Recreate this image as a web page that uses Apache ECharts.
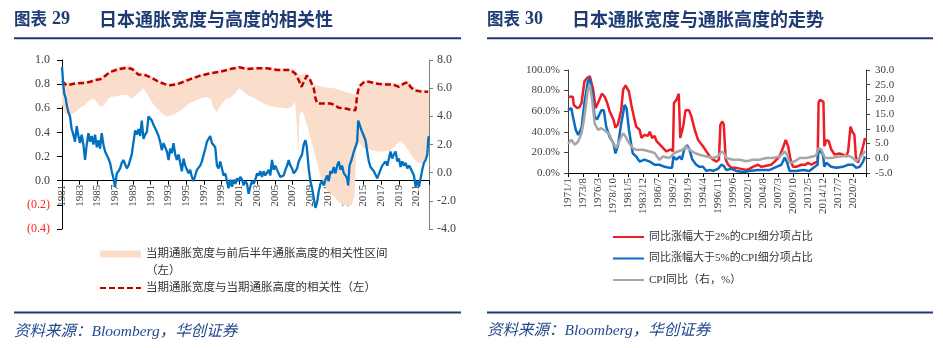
<!DOCTYPE html>
<html>
<head>
<meta charset="utf-8">
<script src="https://cdn.jsdelivr.net/npm/echarts@6/dist/echarts.min.js"></script>
<style>
html,body{margin:0;padding:0;background:#fff;}
#main{width:943px;height:348px;}
</style>
</head>
<body>
<div id="main"></div>
<script>
// ---------------- Chart 29 (left) ----------------
// correlation band (left axis), decimal years
const bandYears = [
1981.0,1981.3,1981.9,1982.5,1983.0,1983.6,1984.2,1984.6,1984.9,1985.3,
1985.7,1986.2,1986.6,1987.2,1987.7,1988.3,1988.9,1989.3,1989.8,1990.2,
1990.6,1991.1,1991.7,1992.3,1992.8,1993.4,1994.1,1994.7,1995.3,1995.8,
1996.5,1997.3,1997.8,1998.1,1998.5,1998.9,1999.5,2000.0,2000.5,2001.0,
2001.5,2001.9,2002.4,2002.8,2003.4,2004.1,2004.9,2005.6,2006.4,2006.9,
2007.3,2007.5,2007.65,2007.8,2008.1,2008.4,2008.7,2009.4,2010.2,2010.9,
2011.7,2012.4,2013.2,2013.7,2014.0,2014.2,2014.5,2015.0,2016.0,2017.0,
2018.0,2018.6,2019.2,2019.6,2020.0,2020.5,2021.0,2021.5,2022.0,2022.4];
const bandLow = [
0.63,0.56,0.54,0.57,0.60,0.63,0.67,0.68,0.655,0.61,
0.625,0.68,0.695,0.70,0.71,0.71,0.68,0.71,0.74,0.765,
0.72,0.655,0.60,0.557,0.53,0.543,0.57,0.60,0.64,0.654,
0.68,0.695,0.68,0.60,0.57,0.626,0.68,0.687,0.72,0.765,
0.74,0.71,0.695,0.68,0.654,0.626,0.612,0.604,0.598,0.612,
0.654,0.45,0.22,0.55,0.58,0.52,0.45,0.25,0.03,-0.08,
-0.13,-0.19,-0.21,-0.20,-0.12,0.25,0.32,0.27,0.25,0.24,
0.25,0.29,0.33,0.30,0.26,0.20,0.16,0.14,0.18,0.35];
const bandHigh = [
0.84,0.82,0.81,0.82,0.82,0.825,0.835,0.845,0.85,0.855,
0.875,0.90,0.915,0.935,0.95,0.955,0.95,0.92,0.895,0.89,
0.88,0.865,0.835,0.815,0.805,0.805,0.815,0.835,0.85,0.865,
0.88,0.895,0.90,0.905,0.91,0.915,0.925,0.935,0.945,0.95,
0.945,0.94,0.94,0.94,0.94,0.94,0.935,0.93,0.93,0.93,
0.92,0.90,0.89,0.88,0.88,0.89,0.89,0.80,0.78,0.77,
0.765,0.75,0.73,0.72,0.715,0.72,0.80,0.835,0.825,0.815,
0.815,0.81,0.80,0.82,0.83,0.79,0.76,0.755,0.75,0.75];

// same-period correlation (left axis)
const corrYears = [
1981.0,1981.5,1982.5,1983.6,1984.2,1984.7,1985.3,1985.9,1986.4,1987.4,
1988.3,1988.9,1989.6,1990.4,1991.1,1991.9,1992.6,1993.2,1994.0,1994.9,
1995.5,1996.6,1997.7,1998.9,2000.0,2001.0,2001.9,2003.0,2004.1,2005.3,
2006.0,2006.8,2007.3,2007.7,2008.0,2008.3,2008.6,2008.9,2009.2,2009.4,
2009.6,2009.8,2010.3,2011.3,2011.8,2012.2,2013.0,2013.7,2014.1,2014.3,
2014.5,2015.1,2015.6,2016.4,2017.1,2018.3,2019.0,2019.6,2020.0,2020.3,
2020.7,2021.3,2021.8,2022.3];
const corrVals = [
0.825,0.79,0.806,0.81,0.82,0.834,0.84,0.87,0.90,0.925,
0.936,0.925,0.88,0.875,0.853,0.82,0.80,0.79,0.80,0.825,
0.842,0.87,0.889,0.903,0.925,0.94,0.925,0.931,0.931,0.917,
0.917,0.917,0.889,0.834,0.778,0.82,0.87,0.85,0.80,0.765,
0.68,0.64,0.64,0.64,0.626,0.604,0.598,0.584,0.584,0.709,
0.778,0.82,0.82,0.806,0.798,0.798,0.778,0.806,0.814,0.778,
0.75,0.742,0.737,0.737];

// Japan CPI yoy (right axis)
const cpiYears = [
1981.00,1981.15,1981.26,1981.41,1981.53,1981.72,1981.90,1982.09,1982.28,1982.47,
1982.66,1982.85,1983.03,1983.22,1983.41,1983.60,1983.79,1983.98,1984.16,1984.35,
1984.54,1984.73,1984.92,1985.11,1985.29,1985.48,1985.67,1985.86,1986.05,1986.24,
1986.42,1986.61,1986.80,1986.99,1987.18,1987.37,1987.55,1987.74,1987.93,1988.12,
1988.31,1988.50,1988.87,1989.06,1989.25,1989.44,1989.63,1989.81,1990.00,1990.19,
1990.38,1990.57,1990.76,1990.94,1991.13,1991.32,1991.51,1991.70,1991.89,1992.07,
1992.26,1992.45,1992.64,1992.83,1993.02,1993.20,1993.39,1993.58,1993.77,1993.96,
1994.15,1994.33,1994.52,1994.71,1994.90,1995.09,1995.27,1995.46,1995.65,1995.84,
1996.03,1996.22,1996.40,1996.59,1996.78,1996.97,1997.16,1997.35,1997.54,1997.72,
1997.91,1998.10,1998.29,1998.48,1998.66,1998.85,1999.04,1999.23,1999.42,1999.61,
1999.79,1999.98,2000.17,2000.36,2000.55,2000.74,2000.92,2001.11,2001.30,2001.49,
2001.68,2001.87,2002.05,2002.24,2002.43,2002.62,2002.81,2003.00,2003.18,2003.37,
2003.56,2003.75,2003.94,2004.13,2004.31,2004.50,2004.69,2004.88,2005.07,2005.26,
2005.44,2005.63,2005.82,2006.01,2006.20,2006.39,2006.57,2006.76,2006.95,2007.14,
2007.33,2007.52,2007.70,2007.89,2008.08,2008.27,2008.46,2008.60,2008.83,2009.02,
2009.21,2009.40,2009.59,2009.78,2009.97,2010.15,2010.34,2010.53,2010.72,2010.91,
2011.09,2011.28,2011.47,2011.66,2011.85,2012.04,2012.22,2012.41,2012.60,2012.79,
2012.98,2013.17,2013.28,2013.43,2013.66,2013.92,2014.11,2014.30,2014.41,2014.56,
2014.79,2015.05,2015.24,2015.43,2015.61,2015.80,2015.99,2016.18,2016.37,2016.56,
2016.75,2016.93,2017.12,2017.31,2017.50,2017.69,2017.88,2018.06,2018.25,2018.44,
2018.63,2018.82,2019.01,2019.19,2019.38,2019.57,2019.76,2019.95,2020.14,2020.33,
2020.51,2020.70,2020.89,2021.08,2021.27,2021.46,2021.64,2021.83,2022.02,2022.21,
2022.32,2022.40];
const cpiVals = [
7.5,6.2,5.6,5.3,4.8,4.3,4.0,3.1,2.7,2.2,
3.3,2.6,2.1,2.7,2.0,0.9,2.0,2.8,2.2,2.6,
2.0,2.7,1.8,2.3,1.7,2.8,2.0,1.5,1.4,1.0,
0.7,0.1,-0.4,-1.0,-0.05,0.1,0.3,0.7,0.9,0.8,
0.3,0.5,1.3,1.3,3.0,2.7,3.1,2.6,3.7,2.4,
2.7,2.9,4.0,4.0,3.7,3.4,3.3,2.9,2.6,2.2,
1.6,2.1,2.0,1.5,0.9,1.7,1.4,2.1,1.3,0.9,
1.3,0.7,0.1,1.0,0.5,0.5,-0.05,0.2,-0.3,-0.6,
-0.2,0.2,0.3,0.5,0.8,0.7,1.7,2.2,2.4,2.6,
2.1,2.2,1.8,0.5,0.3,0.8,0.3,-0.2,-0.05,-0.6,
-1.1,-0.5,-1.0,-0.5,-0.8,-0.4,-0.6,-0.3,-0.5,-0.9,
-0.6,-0.8,-1.5,-1.0,-0.6,-0.8,-0.5,-0.05,-0.2,0.1,
-0.3,0.1,-0.2,0.0,0.2,-0.2,0.9,0.2,0.5,0.2,
-0.05,-0.3,-0.4,-0.2,0.2,0.5,0.9,0.5,0.3,-0.05,
0.1,0.3,0.8,0.7,1.3,2.0,2.3,1.9,0.3,-0.6,
-1.1,-1.8,-2.5,-2.1,-1.3,-0.8,-0.6,-0.9,-0.5,-0.2,
-0.6,0.1,-0.05,0.4,-0.05,0.5,0.8,0.2,0.5,-0.05,
-0.2,-0.4,-0.9,0.5,0.9,1.5,1.6,2.2,3.7,3.6,
3.0,2.6,2.3,1.5,0.8,0.4,0.3,0.1,0.2,-0.4,
-0.5,0.2,0.5,0.4,0.8,0.5,1.0,1.5,1.0,1.3,
1.5,0.8,1.0,0.4,0.8,0.5,0.7,0.3,0.5,0.3,
0.2,-0.2,-1.0,-0.6,-1.0,-0.4,0.2,0.7,0.9,1.3,
2.4,2.6];

// ---------------- Chart 30 (right) ----------------
// [months since 1971/1, value]
const share2pct = [
[0,74],[10,74],[12,66],[19,63],[24,64],[28,68],[34,89],[39,92],[45,94],[52,81],
[57,63],[62,68],[70,77],[76,74],[81,68],[86,60],[94,52],[98,44],[103,47],[110,61],
[114,81],[119,85],[126,79],[131,66],[136,55],[141,45],[148,42],[152,34],[158,37],[165,36],
[169,40],[174,34],[179,36],[183,31],[193,26],[203,21],[213,23],[217,21],[219,68],[224,71],
[229,77],[232,34],[238,45],[243,61],[250,61],[255,55],[262,42],[269,32],[279,26],[286,21],
[293,16],[300,13],[307,11],[312,13],[315,47],[319,50],[322,47],[326,13],[331,8],[338,5],
[348,5],[358,4],[369,3],[375,4],[382,6],[393,8],[400,6],[410,7],[420,8],[427,11],
[437,16],[444,24],[450,32],[455,26],[460,13],[465,6],[472,6],[482,8],[491,8],[496,10],
[503,8],[510,10],[516,11],[518,69],[521,71],[528,69],[530,26],[534,32],[539,31],[544,23],
[551,18],[561,19],[568,18],[575,16],[579,21],[584,45],[588,40],[592,37],[595,16],[599,10],
[604,16],[610,26],[614,34]];
const share5pct = [
[0,61],[7,63],[10,55],[16,42],[21,37],[28,44],[34,68],[41,89],[45,92],[50,77],
[55,55],[60,52],[69,61],[74,61],[79,45],[86,35],[94,29],[98,19],[103,26],[110,48],
[117,66],[121,63],[126,42],[131,27],[134,19],[141,16],[148,11],[158,13],[169,11],[179,8],
[189,8],[200,6],[210,5],[215,5],[218,16],[224,13],[231,16],[235,13],[241,24],[246,27],
[251,23],[257,13],[265,8],[272,6],[279,6],[286,2],[293,3],[300,2],[310,4],[317,8],
[322,7],[327,3],[338,4],[348,2],[362,1],[375,2],[393,3],[403,3],[417,3],[431,6],
[441,8],[448,15],[453,10],[458,2],[472,2],[486,3],[499,2],[510,6],[516,8],[518,24],
[522,21],[527,18],[530,6],[534,10],[544,6],[555,5],[568,6],[579,8],[589,8],[596,5],
[603,6],[610,11],[614,16]];
const cpiYoY = [
[0,5.0],[7,6.3],[14,4.6],[21,5.7],[28,8.5],[34,14.2],[41,23.2],[45,25.0],[50,19.8],[55,11.9],
[62,9.7],[69,10.2],[79,9.1],[86,8.0],[93,5.2],[100,3.5],[107,6.3],[114,8.5],[119,7.4],[126,5.2],
[134,3.5],[141,2.9],[155,2.9],[169,2.3],[179,1.8],[189,-0.5],[196,0.6],[210,0.1],[220,1.8],[227,2.3],
[237,2.9],[244,4.0],[251,2.9],[262,1.8],[272,1.2],[286,0.6],[300,0.1],[310,0.6],[317,2.3],[322,1.8],
[327,0.1],[341,-0.5],[355,-0.5],[369,-1.0],[382,-0.5],[396,-0.5],[410,0.1],[424,0.1],[437,0.6],[448,2.3],
[453,1.2],[458,-1.6],[469,-1.0],[479,0.1],[493,0.1],[506,0.6],[513,1.0],[518,3.5],[524,2.9],[531,0.1],
[544,0.1],[561,0.6],[579,0.9],[589,0.1],[596,-1.0],[606,0.6],[614,2.5]];

const BAND_NAME = '当期通胀宽度与前后半年通胀高度的相关性区间';
const CORR_NAME = '当期通胀宽度与当期通胀高度的相关性（左）';
const R2_NAME = '同比涨幅大于2%的CPI细分项占比';
const R5_NAME = '同比涨幅大于5%的CPI细分项占比';
const RCPI_NAME = 'CPI同比（右，%）';

const SERIF = '"Times New Roman","Liberation Serif","Noto Sans CJK SC",serif';
const NAVY = '#1F3B73';
const PEACH = '#FADDCB';

// left chart layout
const G0 = {left: 62, top: 60, width: 367, height: 169};
const Y0MIN = -0.4, Y0MAX = 1.0;
// put the x axis on the left axis' zero line
const X0_OFFSET = -G0.height * (0 - Y0MIN) / (Y0MAX - Y0MIN);

const chart = echarts.init(document.getElementById('main'), null, {renderer: 'canvas'});

function yearLabel(v) {
  const d = v - 1981;
  if (Math.abs(d / 2 - Math.round(d / 2)) > 1e-6) return '';
  return String(Math.round(v));
}
function monthLabel(m) {
  const r = Math.round(m);
  if (Math.abs(m - r) > 1e-6 || r % 31 !== 0) return '';
  return (1971 + Math.floor(r / 12)) + '/' + (r % 12 + 1);
}

const titleRich = (size) => ({
  a: {fontFamily: '"Noto Sans CJK SC"', fontWeight: 'bold', fontSize: size, color: NAVY, lineHeight: 20},
  b: {fontFamily: '"Liberation Serif"', fontWeight: 'bold', fontSize: 18, color: NAVY, lineHeight: 20}
});
const srcStyle = {fontFamily: SERIF, fontStyle: 'italic', fontWeight: 'normal', fontSize: 15.5, color: '#254A8F', lineHeight: 20};

const option = {
  animation: false,
  backgroundColor: '#fff',
  title: [
    {text: '{a|图表} {b|29}', left: 14, top: 9, padding: 0, textStyle: {rich: titleRich(16.5)}},
    {text: '{a|日本通胀宽度与高度的相关性}', left: 99, top: 9, padding: 0, textStyle: {rich: titleRich(18)}},
    {text: '{a|图表} {b|30}', left: 487, top: 9, padding: 0, textStyle: {rich: titleRich(16.5)}},
    {text: '{a|日本通胀宽度与通胀高度的走势}', left: 572, top: 9, padding: 0, textStyle: {rich: titleRich(18)}},
    {text: '资料来源：Bloomberg，华创证券', left: 14, top: 322, padding: 0, textStyle: srcStyle},
    {text: '资料来源：Bloomberg，华创证券', left: 487, top: 321, padding: 0, textStyle: srcStyle}
  ],
  graphic: [
    {type: 'rect', silent: true, shape: {x: 14, y: 37.3, width: 447, height: 2}, style: {fill: NAVY}},
    {type: 'rect', silent: true, shape: {x: 487, y: 37.3, width: 446, height: 2}, style: {fill: NAVY}},
    {type: 'rect', silent: true, shape: {x: 14, y: 311.6, width: 447, height: 2}, style: {fill: NAVY}},
    {type: 'rect', silent: true, shape: {x: 487, y: 311.6, width: 446, height: 2}, style: {fill: NAVY}}
  ],
  legend: [
    {
      orient: 'vertical', left: 99, top: 228.5, padding: 0, itemWidth: 41, itemHeight: 7, itemGap: 0,
      selectedMode: false,
      textStyle: {fontFamily: SERIF, fontSize: 11.5, lineHeight: 17, color: '#333'},
      formatter: (n) => n === BAND_NAME ? '\n' + n + '\n（左）' : n,
      data: [
        {name: BAND_NAME, icon: 'rect'},
        {name: CORR_NAME, itemStyle: {opacity: 0}}
      ]
    },
    {
      orient: 'vertical', left: 612, top: 230, padding: 0, itemWidth: 31, itemHeight: 14, itemGap: 7.5,
      selectedMode: false,
      textStyle: {fontFamily: SERIF, fontSize: 11, lineHeight: 14, color: '#333'},
      data: [
        {name: R2_NAME, itemStyle: {opacity: 0}},
        {name: R5_NAME, itemStyle: {opacity: 0}},
        {name: RCPI_NAME, itemStyle: {opacity: 0}}
      ]
    }
  ],
  grid: [
    G0,
    {left: 568, top: 70, width: 298, height: 103}
  ],
  xAxis: [
    {
      type: 'value', gridIndex: 0, min: 1981, max: 2022.4, interval: 2,
      position: 'bottom', offset: X0_OFFSET,
      splitLine: {show: false},
      axisLine: {show: true, onZero: false, lineStyle: {color: '#000', width: 1}},
      axisTick: {show: true, length: 4, lineStyle: {color: '#000'}},
      axisLabel: {rotate: 90, margin: 4, fontFamily: SERIF, fontSize: 11, color: '#404040', formatter: yearLabel}
    },
    {
      type: 'value', gridIndex: 1, min: 0, max: 616, interval: 31,
      splitLine: {show: false},
      axisLine: {show: true, onZero: false, lineStyle: {color: '#000', width: 1}},
      axisTick: {show: true, length: 4, lineStyle: {color: '#000'}},
      axisLabel: {rotate: 90, margin: 5, fontFamily: SERIF, fontSize: 11, color: '#404040', formatter: monthLabel}
    }
  ],
  yAxis: [
    {
      type: 'value', gridIndex: 0, position: 'left', min: Y0MIN, max: Y0MAX, interval: 0.2,
      splitLine: {show: false},
      axisLine: {show: true, lineStyle: {color: '#000'}},
      axisTick: {show: true, length: 5, lineStyle: {color: '#000'}},
      axisLabel: {
        margin: 12, fontFamily: SERIF, fontSize: 12,
        color: (v) => (Number(v) < -1e-9 ? '#FF2020' : '#404040'),
        formatter: (v) => v < -1e-9 ? '(' + Math.abs(v).toFixed(1) + ')' : Math.abs(v).toFixed(1)
      }
    },
    {
      type: 'value', gridIndex: 0, position: 'right', min: -4, max: 8, interval: 2,
      splitLine: {show: false},
      axisLine: {show: true, lineStyle: {color: '#808080'}},
      axisTick: {show: true, length: 4, lineStyle: {color: '#808080'}},
      axisLabel: {margin: 8, fontFamily: SERIF, fontSize: 12, color: '#404040', formatter: (v) => v.toFixed(1)}
    },
    {
      type: 'value', gridIndex: 1, position: 'left', min: 0, max: 100, interval: 20,
      splitLine: {show: false},
      axisLine: {show: true, lineStyle: {color: '#404040'}},
      axisTick: {show: true, length: 4, lineStyle: {color: '#404040'}},
      axisLabel: {margin: 8, fontFamily: SERIF, fontSize: 11, color: '#404040', formatter: (v) => v.toFixed(1) + '%'}
    },
    {
      type: 'value', gridIndex: 1, position: 'right', min: -5, max: 30, interval: 5,
      splitLine: {show: false},
      axisLine: {show: true, lineStyle: {color: '#404040'}},
      axisTick: {show: true, length: 4, lineStyle: {color: '#404040'}},
      axisLabel: {margin: 9, fontFamily: SERIF, fontSize: 11, color: '#404040', formatter: (v) => v.toFixed(1)}
    }
  ],
  series: [
    {
      name: BAND_NAME, type: 'custom', xAxisIndex: 0, yAxisIndex: 0, silent: true,
      itemStyle: {color: PEACH},
      data: bandYears.map((x, i) => [x, bandLow[i], bandHigh[i]]),
      encode: {x: 0, y: [1, 2]},
      renderItem: (params, api) => {
        if (params.dataIndex !== 0) return null;
        const pts = [];
        for (let i = 0; i < bandYears.length; i++) pts.push(api.coord([bandYears[i], bandHigh[i]]));
        for (let i = bandYears.length - 1; i >= 0; i--) pts.push(api.coord([bandYears[i], bandLow[i]]));
        return {type: 'polygon', shape: {points: pts}, style: {fill: PEACH}};
      }
    },
    {
      name: CORR_NAME, type: 'line', xAxisIndex: 0, yAxisIndex: 0, symbol: 'none', silent: true,
      itemStyle: {color: '#C00000'},
      lineStyle: {color: '#C00000', width: 2.5, type: [6, 3]},
      data: corrYears.map((x, i) => [x, corrVals[i]])
    },
    {
      name: 'CPI', type: 'line', xAxisIndex: 0, yAxisIndex: 1, symbol: 'none', silent: true,
      itemStyle: {color: '#0070C0'},
      lineStyle: {color: '#0070C0', width: 2.3},
      data: cpiYears.map((x, i) => [x, cpiVals[i]])
    },
    {
      name: R2_NAME, type: 'line', xAxisIndex: 1, yAxisIndex: 2, symbol: 'none', silent: true,
      itemStyle: {color: '#EE1C25'},
      lineStyle: {color: '#EE1C25', width: 2.5},
      data: share2pct
    },
    {
      name: R5_NAME, type: 'line', xAxisIndex: 1, yAxisIndex: 2, symbol: 'none', silent: true,
      itemStyle: {color: '#0A6CC4'},
      lineStyle: {color: '#0A6CC4', width: 2.5},
      data: share5pct
    },
    {
      name: RCPI_NAME, type: 'line', xAxisIndex: 1, yAxisIndex: 3, symbol: 'none', silent: true,
      itemStyle: {color: '#A6A6A6'},
      lineStyle: {color: '#A6A6A6', width: 2.5},
      data: cpiYoY
    }
  ]
};
chart.setOption(option);
</script>
</body>
</html>
